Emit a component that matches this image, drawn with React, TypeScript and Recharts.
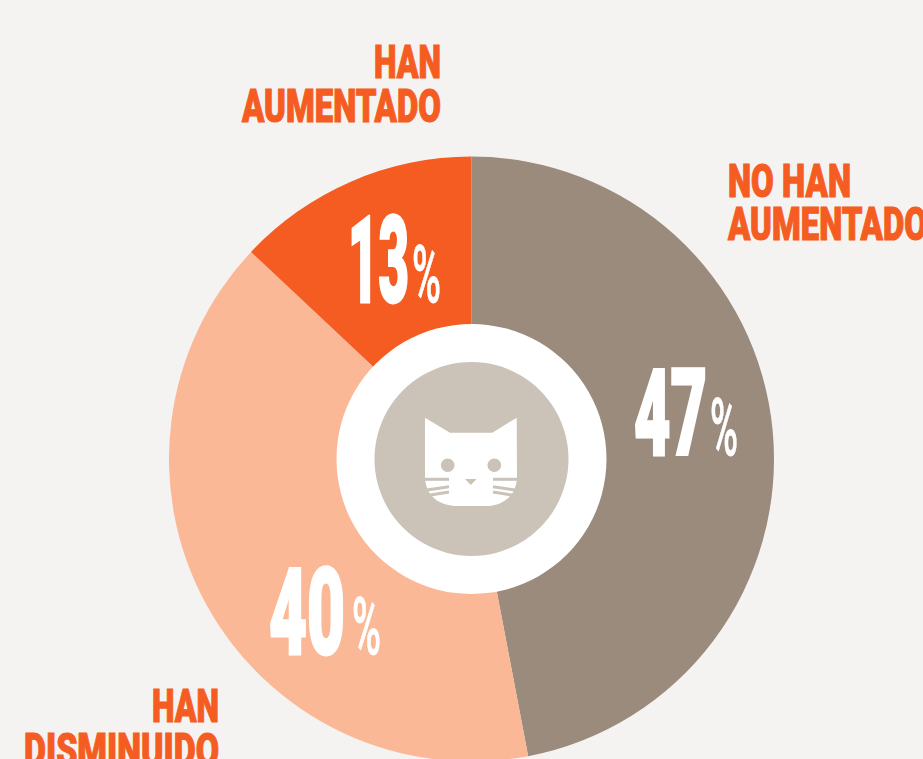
import React from "react";
import { PieChart, Pie, Cell } from "recharts";

const categories = ["NO HAN AUMENTADO", "HAN DISMINUIDO", "HAN AUMENTADO"];
const shares = [47, 40, 13];
const sliceColors = ["#9a8b7c", "#fbb897", "#f45c21"];

const W = 923, H = 759, CX = 471.5, CY = 459;
const ORANGE = "#f45c21", TAUPE = "#cbc2b8", BG = "#f5f3f1";
const FONT = "Roboto, 'Liberation Sans', sans-serif";

// x: digits' left edge, y: baseline, digit/percent widths
const valueLayout = [
  { x: 634, y: 455, w: 73, px: 710, pw: 28 },
  { x: 269, y: 654, w: 76, px: 352, pw: 29 },
  { x: 348, y: 302, w: 61, px: 412, pw: 29 },
];
const labelLayout = [
  { lines: ["NO HAN", "AUMENTADO"], x: 728, y: [197, 240], w: [123, 199], anchor: "start" },
  { lines: ["HAN", "DISMINUIDO"], x: 219, y: [722, 766], w: [67, 195], anchor: "end" },
  { lines: ["HAN", "AUMENTADO"], x: 441, y: [78, 122], w: [67, 199], anchor: "end" },
];

const ringData = [{ name: "ring", value: 1 }];
const coreData = [{ name: "core", value: 1 }];
const sliceData = categories.map((name, i) => ({ name, value: shares[i] }));

function renderCat() {
  const whiskers = [
    "M-48,20.3 L-22.5,20.3", "M-48,31.5 L-22.5,27.7", "M-44,36.5 L-22.5,33",
    "M47,20.3 L21.5,20.3", "M47,31.5 L21.5,27.7", "M43,36.5 L21.5,33",
  ];
  return (
    <g transform={`translate(${CX} ${CY})`}>
      <path
        fill="#fff"
        d="M-46.5,-41.3 L-21.5,-26.3 L20.8,-26.3 L45.2,-41.3 L45.5,18 C45,38 30,47 14,47 L-14,47 C-31,47 -46,38 -46.5,18 Z"
      />
      <circle cx={-23.8} cy={6.3} r={6.8} fill={TAUPE} />
      <circle cx={22.8} cy={6.3} r={6.8} fill={TAUPE} />
      <path d="M-6.5,20 L5.2,20 L-0.7,26 Z" fill={TAUPE} />
      {whiskers.map((d, i) => (
        <path key={i} d={d} stroke={TAUPE} strokeWidth={3} fill="none" />
      ))}
    </g>
  );
}

function renderValue(props: any) {
  const i = props.index;
  const l = valueLayout[i];
  return (
    <g fontFamily={FONT} fill="#fff" stroke="#fff">
      <text x={l.x} y={l.y} fontSize={120} fontWeight={900} strokeWidth={3} textLength={l.w} lengthAdjust="spacingAndGlyphs">{shares[i]}</text>
      <text x={l.px} y={l.y} fontSize={80} fontWeight={500} strokeWidth={0.8} textLength={l.pw} lengthAdjust="spacingAndGlyphs">%</text>
    </g>
  );
}

export default function App() {
  return (
    <div style={{ position: "absolute", left: 0, top: 0, width: W, height: H, background: BG, overflow: "hidden" }}>
      <PieChart width={W} height={H} margin={{ top: 0, right: 0, bottom: 0, left: 0 }}>
        <Pie data={sliceData} dataKey="value" nameKey="name" cx={CX} cy={CY} innerRadius={134} outerRadius={302.5}
          startAngle={90} endAngle={-270} stroke="none" isAnimationActive={false} label={renderValue} labelLine={false}>
          {sliceData.map((d, i) => <Cell key={d.name} fill={sliceColors[i]} />)}
        </Pie>
        <Pie data={ringData} dataKey="value" cx={CX} cy={CY} innerRadius={96} outerRadius={135}
          startAngle={90} endAngle={-270} stroke="none" fill="#ffffff" isAnimationActive={false} />
        <Pie data={coreData} dataKey="value" cx={CX} cy={CY} innerRadius={0} outerRadius={97}
          startAngle={90} endAngle={-270} stroke="none" fill={TAUPE} isAnimationActive={false} label={renderCat} labelLine={false} />
        {labelLayout.map((l, i) => (
          <g key={i} fontFamily={FONT} fill={ORANGE} stroke={ORANGE} strokeWidth={1.2} fontWeight={900} fontSize={47}>
            {l.lines.map((t, j) => (
              <text key={t} x={l.x} y={l.y[j]} textAnchor={l.anchor as "start" | "end"} textLength={l.w[j]} lengthAdjust="spacingAndGlyphs">{t}</text>
            ))}
          </g>
        ))}
      </PieChart>
    </div>
  );
}
